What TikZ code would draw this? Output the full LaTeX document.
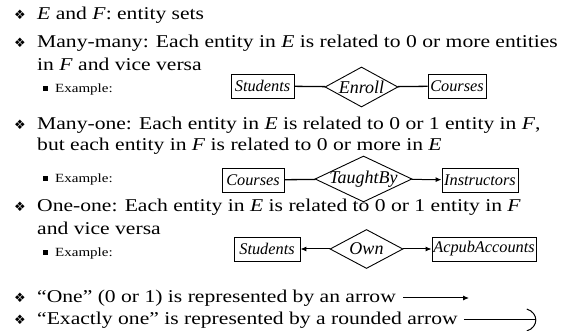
\documentclass[tikz,border=0pt]{standalone}
\usepackage{fontspec}
\setmainfont{Liberation Serif}[FakeStretch=1.2]
\newfontfamily\dgmfont{Liberation Serif}
\newfontfamily\symfont{DejaVu Sans}
\usetikzlibrary{shapes.geometric,arrows.meta}

\begin{document}
\begin{tikzpicture}[x=1pt,y=-1pt,
  txt/.style={anchor=west,inner sep=0pt,font=\fontsize{18}{20}\selectfont},
  extxt/.style={anchor=west,inner sep=0pt,font=\fontsize{12.5}{14}\selectfont},
  bul/.style={inner sep=0pt,font=\symfont\fontsize{13}{14}\selectfont},
  subbul/.style={fill=black,inner sep=0pt,minimum size=5pt},
  ent/.style={draw,line width=0.9pt,inner sep=0pt,minimum height=24pt,
    font=\dgmfont\itshape\fontsize{16.3}{17}\selectfont},
  rel/.style={draw,diamond,aspect=2,line width=0.9pt,inner sep=0pt,
    label={[inner sep=0pt,font=\dgmfont\itshape\fontsize{18}{19}\selectfont]center:#1}},
  conn/.style={line width=1.3pt},
  tip/.style={line width=1pt,-{Latex[length=6pt,width=5pt]}}]
\useasboundingbox (0,0) rectangle (574,331);

%%% bullets and text
\node[bul] (b1) at (20,15) {❖};
\node[txt] (t1) at (37,15) {\textit{E} and \textit{F}: entity sets};
\node[bul] (b2) at (20,43) {❖};
\node[txt] (t2a) at (37,43) {Many-many: Each entity in \textit{E} is related to 0 or more entities};
\node[txt] (t2b) at (37,64) {in \textit{F} and vice versa};
\node[subbul] (s1) at (45,89) {};
\node[extxt] (e1) at (55,89) {Example:};

\node[bul] (b3) at (20,125) {❖};
\node[txt] (t3a) at (37,125) {Many-one: Each entity in \textit{E} is related to 0 or 1 entity in \textit{F},};
\node[txt] (t3b) at (37,146) {but each entity in \textit{F} is related to 0 or more in \textit{E}};
\node[subbul] (s2) at (45,179) {};
\node[extxt] (e2) at (55,179) {Example:};

\node[bul] (b4) at (20,207) {❖};
\node[txt] (t4a) at (37,207) {One-one: Each entity in \textit{E} is related to 0 or 1 entity in \textit{F}};
\node[txt] (t4b) at (37,228) {and vice versa};
\node[subbul] (s3) at (45,253) {};
\node[extxt] (e3) at (55,253) {Example:};

\node[bul] (b5) at (20,298) {❖};
\node[txt] (t5) at (37,298) {“One” (0 or 1) is represented by an arrow};
\node[bul] (b6) at (20,320) {❖};
\node[txt] (t6) at (37,320) {“Exactly one” is represented by a rounded arrow};

%%% many-many
\node[ent,minimum width=63pt] (stud) at (262.5,86) {Students};
\node[rel=Enroll,minimum width=73pt,minimum height=40pt] (enroll) at (361.5,87) {};
\node[ent,minimum width=58pt] (course) at (457,86) {Courses};
\draw[conn] (stud) -- (enroll);
\draw[conn] (enroll) -- (course);

%%% many-one
\node[ent,minimum width=62pt] (course2) at (253,180) {Courses};
\node[rel=TaughtBy,minimum width=97pt,minimum height=46pt] (taught) at (363.5,179) {};
\node[ent,minimum width=76pt] (instr) at (480,180) {Instructors};
\draw[conn] (course2) -- (taught);
\draw[tip] (taught) -- (instr);

%%% one-one
\node[ent,minimum width=66pt] (stud2) at (267,249) {Students};
\node[rel=Own,minimum width=73pt,minimum height=39pt] (own) at (366.5,249) {};
\node[ent,minimum width=104pt] (acpub) at (484,249) {AcpubAccounts};
\draw[tip] (own) -- (stud2);
\draw[tip] (own) -- (acpub);

%%% arrow legend
\coordinate (one1) at ([xshift=7pt]t5.east);
\coordinate (one2) at ([xshift=73pt]t5.east);
\draw[tip] (one1) -- (one2);
\coordinate (ex1) at ([xshift=6pt]t6.east);
\coordinate (ex2) at ([xshift=78pt]t6.east);
\draw[line width=1pt] (ex1) -- (ex2);
\draw[line width=1pt] ([shift={(-9,-11)}]ex2) .. controls ([shift={(3,-7)}]ex2) and ([shift={(3,7)}]ex2) .. ([shift={(-9,11)}]ex2);
\end{tikzpicture}
\end{document}
